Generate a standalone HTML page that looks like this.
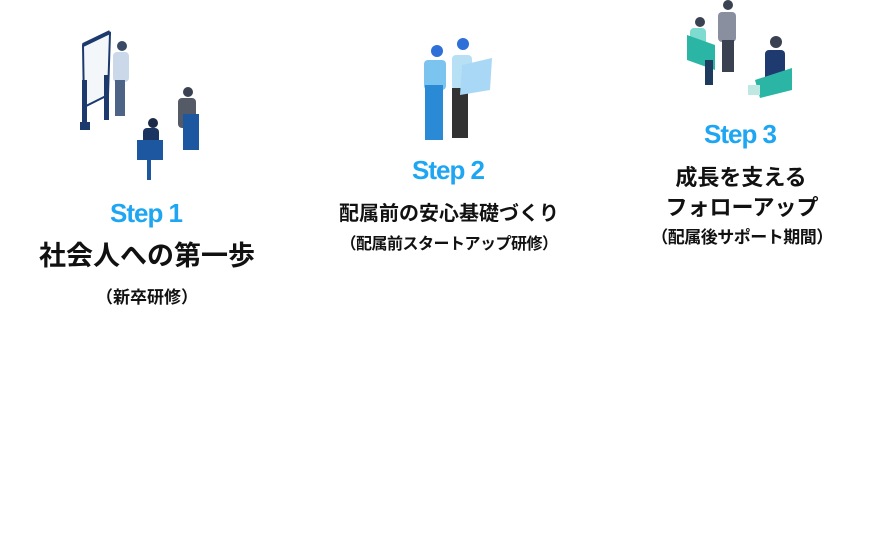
<!DOCTYPE html>
<html><head><meta charset="utf-8"><style>
body{margin:0;width:884px;height:541px;background:#fff;position:relative;overflow:hidden;font-family:"Liberation Sans","Noto Sans CJK JP",sans-serif;}
.t{position:absolute;white-space:nowrap;text-align:center;transform:translateX(-50%);font-weight:bold;color:#111;line-height:1;}
.s{color:#1ea6f2;font-family:"Liberation Sans",sans-serif;letter-spacing:-1px;}
svg{position:absolute;left:0;top:0}
</style></head><body>
<svg width="884" height="541">
<!-- step1 illustration -->
<polygon points="83,45 110,33 108,95 84,107" fill="#f4f7fa" stroke="#1c3a6e" stroke-width="2"/>
<line x1="83" y1="45" x2="110" y2="32" stroke="#1c3a6e" stroke-width="4"/>
<rect x="82" y="80" width="5" height="50" fill="#1c3a6e"/><rect x="104" y="75" width="5" height="45" fill="#1c3a6e"/>
<rect x="80" y="122" width="10" height="8" fill="#1c3a6e"/>
<circle cx="122" cy="46" r="5" fill="#3a4a66"/>
<rect x="113" y="52" width="16" height="30" rx="4" fill="#cbd8ea"/>
<rect x="115" y="80" width="10" height="36" fill="#4d6486"/>
<circle cx="188" cy="92" r="5" fill="#3a4150"/>
<rect x="178" y="98" width="18" height="30" rx="4" fill="#545a66"/>
<rect x="183" y="114" width="16" height="36" fill="#1c57a0"/>
<circle cx="153" cy="123" r="5" fill="#1c2a4a"/>
<rect x="143" y="128" width="16" height="24" rx="4" fill="#1c3560"/>
<rect x="137" y="140" width="26" height="20" fill="#1c57a0"/>
<rect x="147" y="160" width="4" height="20" fill="#1c57a0"/>
<!-- step2 illustration -->
<circle cx="437" cy="51" r="6" fill="#2f6fd8"/>
<circle cx="463" cy="44" r="6" fill="#2f6fd8"/>
<rect x="424" y="60" width="22" height="30" rx="4" fill="#7cc4f0"/>
<rect x="425" y="85" width="18" height="55" fill="#2a8ad6"/>
<rect x="452" y="55" width="20" height="35" rx="4" fill="#b8e0f5"/>
<rect x="452" y="88" width="16" height="50" fill="#333"/>
<polygon points="462,65 492,58 490,90 460,95" fill="#a8d8f5"/>
<!-- step3 illustration -->
<circle cx="728" cy="5" r="5" fill="#3a4150"/>
<rect x="718" y="12" width="18" height="30" rx="4" fill="#8a8fa0"/>
<rect x="722" y="40" width="12" height="32" fill="#3a4150"/>
<circle cx="700" cy="22" r="5" fill="#3a4150"/>
<rect x="690" y="28" width="16" height="28" rx="4" fill="#7fdad0"/>
<polygon points="687,35 715,45 715,70 687,60" fill="#2bb5a5"/>
<rect x="705" y="60" width="8" height="25" fill="#1e3a5e"/>
<circle cx="776" cy="42" r="6" fill="#3a4150"/>
<rect x="765" y="50" width="20" height="32" rx="4" fill="#1e3a6e"/>
<polygon points="755,80 792,68 792,90 760,98" fill="#2bb5a5"/>
<rect x="748" y="85" width="12" height="10" fill="#bfe8e2"/>
</svg>
<div class="t s" style="left:146px;top:200px;font-size:26px;">Step 1</div>
<div class="t" style="left:147px;top:243px;font-size:27px;">社会人への第一歩</div>
<div class="t" style="left:147px;top:289px;font-size:17px;">（新卒研修）</div>
<div class="t s" style="left:448px;top:157px;font-size:26px;">Step 2</div>
<div class="t" style="left:449px;top:204px;font-size:20px;">配属前の安心基礎づくり</div>
<div class="t" style="left:449px;top:237px;font-size:16px;letter-spacing:-0.5px;">（配属前スタートアップ研修）</div>
<div class="t s" style="left:740px;top:121px;font-size:26px;">Step 3</div>
<div class="t" style="left:741px;top:167px;font-size:22px;">成長を支える</div>
<div class="t" style="left:742px;top:197px;font-size:22px;">フォローアップ</div>
<div class="t" style="left:742px;top:229px;font-size:17px;letter-spacing:-0.5px;">（配属後サポート期間）</div>
</body></html>
